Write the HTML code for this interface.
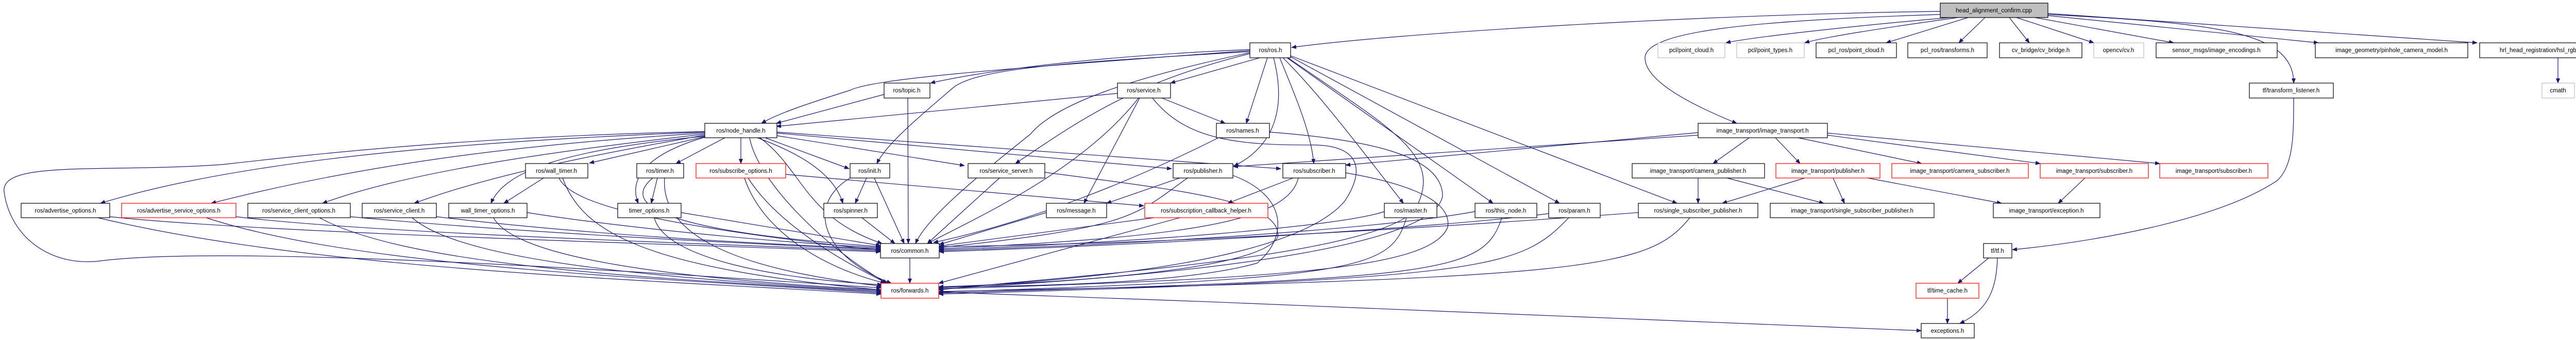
<!DOCTYPE html>
<html><head><meta charset="utf-8"><style>
html,body{margin:0;padding:0;background:#fff;}
svg{display:block}
text{font-family:"Liberation Sans",sans-serif;font-size:11.5px;fill:#000;text-anchor:middle;}
.e{fill:none;stroke:#191970;stroke-width:1.2;marker-end:url(#a)}
.n{fill:#fff;stroke:#000;stroke-width:1.2}
.r{fill:#fff;stroke:#f00;stroke-width:1.2}
.g{fill:#fff;stroke:#bfbfbf;stroke-width:1.2}
</style></head><body>
<svg width="5121" height="659" viewBox="0 0 5121 659" xmlns="http://www.w3.org/2000/svg">
<defs><marker id="a" markerWidth="10" markerHeight="8" refX="9" refY="4" orient="auto" markerUnits="userSpaceOnUse"><path d="M0,0 L10,4 L0,8 z" fill="#191970"/></marker></defs>
<g>
<path class="e" d="M3766,22 C3300,28 2700,65 2507,92"/>
<path class="e" d="M3785,34 C3600,50 3400,72 3350,83"/>
<path class="e" d="M3800,34 C3650,55 3540,72 3503,83"/>
<path class="e" d="M3820,34 L3661,83"/>
<path class="e" d="M3853,34 L3802,83"/>
<path class="e" d="M3900,34 L3939,83"/>
<path class="e" d="M3914,34 L4064,83"/>
<path class="e" d="M3950,34 L4219,83"/>
<path class="e" d="M3973,30 L4500,83"/>
<path class="e" d="M3973,26 L4808,83"/>
<path class="e" d="M3973,28 C4300,45 4452,60 4452,161"/>
<path class="e" d="M3766,28 C3400,40 3200,60 3193,110 C3190,160 3300,210 3371,239"/>
<path class="e" d="M4965,112 L4965,161"/>
<path class="e" d="M4452,190 C4452,260 4452,320 4420,350 C4300,430 4050,470 3906,484"/>
<path class="e" d="M3860,500 L3800,549"/>
<path class="e" d="M3877,500 C3875,560 3860,600 3804,627"/>
<path class="e" d="M3780,579 L3780,627"/>
<path class="e" d="M1822,566 C2500,590 3300,620 3729,641"/>
<path class="e" d="M2426,96 C2100,110 1900,140 1806,161"/>
<path class="e" d="M2445,112 L2272,161"/>
<path class="e" d="M2460,112 L2419,239"/>
<path class="e" d="M2426,98 C2000,130 1700,150 1650,175 C1570,200 1510,220 1478,239"/>
<path class="e" d="M2426,100 C2100,120 1900,130 1850,170 C1780,230 1720,280 1702,317"/>
<path class="e" d="M2426,102 C2200,150 2050,200 2000,260 C1900,340 1800,420 1777,472"/>
<path class="e" d="M2426,104 C2200,160 2100,230 1971,317"/>
<path class="e" d="M2472,112 C2495,200 2480,280 2395,322"/>
<path class="e" d="M2484,112 C2520,200 2545,260 2550,317"/>
<path class="e" d="M2490,112 C2560,180 2650,300 2724,394"/>
<path class="e" d="M2498,112 L2898,394"/>
<path class="e" d="M2505,110 L3027,394"/>
<path class="e" d="M2505,108 L3255,394"/>
<path class="e" d="M2500,112 C2700,250 2800,300 2750,400 C2700,500 2000,540 1822,562"/>
<path class="e" d="M1716,183 L1507,239"/>
<path class="e" d="M1762,190 L1763,472"/>
<path class="e" d="M2169,181 L1507,245"/>
<path class="e" d="M2255,190 L2378,239"/>
<path class="e" d="M2212,190 L2104,394"/>
<path class="e" d="M2210,190 C2100,330 1900,420 1800,472"/>
<path class="e" d="M2237,190 C2300,270 2400,282 2550,281 C2640,282 2650,330 2610,390 C2500,520 2000,548 1822,558"/>
<path class="e" d="M2365,267 C2200,350 2000,430 1812,470"/>
<path class="e" d="M2464,256 C2650,270 2800,300 2800,380 C2780,500 2100,545 1822,560"/>
<path class="e" d="M1368,265 L1144,316"/>
<path class="e" d="M1407,267 L1312,317"/>
<path class="e" d="M1438,267 L1438,317"/>
<path class="e" d="M1485,267 L1648,327"/>
<path class="e" d="M1470,267 C1560,300 1620,340 1636,394"/>
<path class="e" d="M1508,263 L1872,321"/>
<path class="e" d="M1508,258 L2274,327"/>
<path class="e" d="M1508,256 L2486,327"/>
<path class="e" d="M1475,267 C1560,330 1560,420 1712,472"/>
<path class="e" d="M1455,267 C1470,350 1600,480 1722,549"/>
<path class="e" d="M1368,256 C1000,270 500,300 195,394"/>
<path class="e" d="M1368,258 C1000,280 700,320 410,394"/>
<path class="e" d="M1368,260 C1100,290 800,330 626,394"/>
<path class="e" d="M1368,262 C1150,300 950,340 804,394"/>
<path class="e" d="M1368,264 C1100,290 980,330 953,394"/>
<path class="e" d="M1368,266 C1250,300 1220,350 1239,394"/>
<path class="e" d="M1368,255 C900,265 600,300 431,319 C200,335 0,310 8,372 C20,460 100,520 200,505 C500,470 1500,545 1710,558"/>
<path class="e" d="M1055,345 L978,394"/>
<path class="e" d="M1085,345 C1110,400 1300,440 1709,485"/>
<path class="e" d="M1092,345 C1130,450 1250,520 1710,562"/>
<path class="e" d="M1276,345 L1264,394"/>
<path class="e" d="M1267,345 C1200,400 1300,450 1709,478"/>
<path class="e" d="M1290,345 C1280,480 1500,530 1714,555"/>
<path class="e" d="M1525,338 L2220,399"/>
<path class="e" d="M1445,345 C1480,450 1600,520 1718,549"/>
<path class="e" d="M1452,345 C1500,420 1600,490 1722,549"/>
<path class="e" d="M1682,345 L1660,394"/>
<path class="e" d="M1697,345 L1755,472"/>
<path class="e" d="M1650,345 C1560,400 1600,500 1730,549"/>
<path class="e" d="M1940,345 L1800,472"/>
<path class="e" d="M2028,334 C2300,370 2490,390 2480,460 C2440,530 2000,550 1822,556"/>
<path class="e" d="M2290,345 L2148,394"/>
<path class="e" d="M2305,345 C2200,420 2200,440 1823,480"/>
<path class="e" d="M2393,340 C2500,380 2500,460 2440,510 C2300,550 2000,555 1822,556"/>
<path class="e" d="M2510,345 L2383,394"/>
<path class="e" d="M2520,345 C2500,430 2300,460 1823,482"/>
<path class="e" d="M2612,335 C2700,350 2820,380 2810,440 C2780,520 2500,540 1822,560"/>
<path class="e" d="M1673,422 L1737,472"/>
<path class="e" d="M2240,422 L1823,477"/>
<path class="e" d="M2290,422 L1822,549"/>
<path class="e" d="M2031,412 L1823,474"/>
<path class="e" d="M2687,410 C2600,440 2200,470 1823,484"/>
<path class="e" d="M2730,422 C2700,520 2650,540 1822,566"/>
<path class="e" d="M2863,410 C2700,440 2300,470 1823,486"/>
<path class="e" d="M2915,422 C2880,530 2800,540 1822,568"/>
<path class="e" d="M3006,414 C2800,440 2300,472 1823,488"/>
<path class="e" d="M3045,422 C2950,520 2900,540 1822,570"/>
<path class="e" d="M3180,412 C2800,440 2300,472 1823,478"/>
<path class="e" d="M3280,422 C3200,520 3100,540 1822,565"/>
<path class="e" d="M213,420 C500,450 1200,470 1709,488"/>
<path class="e" d="M190,422 C600,520 1200,540 1710,570"/>
<path class="e" d="M458,420 C700,450 1300,470 1709,486"/>
<path class="e" d="M400,422 C700,520 1300,540 1710,568"/>
<path class="e" d="M680,420 C1000,450 1400,470 1709,484"/>
<path class="e" d="M620,422 C800,520 1300,540 1710,566"/>
<path class="e" d="M847,420 C1100,450 1400,470 1709,482"/>
<path class="e" d="M800,422 C900,510 1300,540 1710,564"/>
<path class="e" d="M1023,412 C1200,440 1500,470 1709,480"/>
<path class="e" d="M958,422 C1000,500 1300,540 1710,562"/>
<path class="e" d="M1322,412 L1709,476"/>
<path class="e" d="M1270,422 C1290,500 1500,540 1712,552"/>
<path class="e" d="M1766,500 L1766,549"/>
<path class="e" d="M3395,267 L3325,317"/>
<path class="e" d="M3446,267 L3494,317"/>
<path class="e" d="M3490,267 L3730,317"/>
<path class="e" d="M3547,262 L3960,317"/>
<path class="e" d="M3547,258 L4192,317"/>
<path class="e" d="M3296,257 L2612,320"/>
<path class="e" d="M3296,262 L2394,323"/>
<path class="e" d="M3296,345 L3296,394"/>
<path class="e" d="M3352,345 L3540,394"/>
<path class="e" d="M3503,345 L3343,394"/>
<path class="e" d="M3558,345 L3580,394"/>
<path class="e" d="M3625,345 L3885,394"/>
<path class="e" d="M4047,345 L3995,394"/>
</g>
<g>
<rect x="3766" y="6" width="209" height="28" fill="#bfbfbf" stroke="#000" stroke-width="1.2"/><text x="3870" y="24">head_alignment_confirm.cpp</text>
<rect class="n" x="2426" y="83" width="79" height="29"/><text x="2466" y="101">ros/ros.h</text>
<rect class="g" x="3218" y="83" width="130" height="29"/><text x="3283" y="101">pcl/point_cloud.h</text>
<rect class="g" x="3371" y="83" width="131" height="29"/><text x="3436" y="101">pcl/point_types.h</text>
<rect class="n" x="3525" y="83" width="156" height="29"/><text x="3603" y="101">pcl_ros/point_cloud.h</text>
<rect class="n" x="3703" y="83" width="154" height="29"/><text x="3780" y="101">pcl_ros/transforms.h</text>
<rect class="n" x="3881" y="83" width="160" height="29"/><text x="3961" y="101">cv_bridge/cv_bridge.h</text>
<rect class="g" x="4064" y="83" width="97" height="29"/><text x="4112" y="101">opencv/cv.h</text>
<rect class="n" x="4185" y="83" width="235" height="29"/><text x="4302" y="101">sensor_msgs/image_encodings.h</text>
<rect class="n" x="4494" y="83" width="296" height="29"/><text x="4642" y="101">image_geometry/pinhole_camera_model.h</text>
<rect class="n" x="4813" y="83" width="304" height="29"/><text x="4965" y="101">hrl_head_registration/hsl_rgb_conversions.h</text>
<rect class="n" x="1716" y="161" width="89" height="29"/><text x="1760" y="179">ros/topic.h</text>
<rect class="n" x="2169" y="161" width="103" height="29"/><text x="2220" y="179">ros/service.h</text>
<rect class="n" x="4366" y="161" width="163" height="29"/><text x="4447" y="179">tf/transform_listener.h</text>
<rect class="g" x="4934" y="161" width="63" height="29"/><text x="4965" y="179">cmath</text>
<rect class="n" x="1368" y="239" width="140" height="28"/><text x="1438" y="257">ros/node_handle.h</text>
<rect class="n" x="2361" y="239" width="103" height="28"/><text x="2412" y="257">ros/names.h</text>
<rect class="n" x="3296" y="239" width="251" height="28"/><text x="3421" y="257">image_transport/image_transport.h</text>
<rect class="n" x="1020" y="317" width="121" height="28"/><text x="1080" y="335">ros/wall_timer.h</text>
<rect class="n" x="1236" y="317" width="91" height="28"/><text x="1281" y="335">ros/timer.h</text>
<rect class="r" x="1351" y="317" width="174" height="28"/><text x="1438" y="335">ros/subscribe_options.h</text>
<rect class="n" x="1650" y="317" width="77" height="28"/><text x="1688" y="335">ros/init.h</text>
<rect class="n" x="1879" y="317" width="149" height="28"/><text x="1953" y="335">ros/service_server.h</text>
<rect class="n" x="2277" y="317" width="116" height="28"/><text x="2335" y="335">ros/publisher.h</text>
<rect class="n" x="2490" y="317" width="122" height="28"/><text x="2551" y="335">ros/subscriber.h</text>
<rect class="n" x="3168" y="317" width="257" height="28"/><text x="3296" y="335">image_transport/camera_publisher.h</text>
<rect class="r" x="3447" y="317" width="202" height="28"/><text x="3548" y="335">image_transport/publisher.h</text>
<rect class="r" x="3672" y="317" width="265" height="28"/><text x="3804" y="335">image_transport/camera_subscriber.h</text>
<rect class="r" x="3960" y="317" width="210" height="28"/><text x="4065" y="335">image_transport/subscriber.h</text>
<rect class="r" x="4192" y="317" width="210" height="28"/><text x="4297" y="335">image_transport/subscriber.h</text>
<rect class="n" x="41" y="394" width="172" height="28"/><text x="127" y="412">ros/advertise_options.h</text>
<rect class="r" x="236" y="394" width="222" height="28"/><text x="347" y="412">ros/advertise_service_options.h</text>
<rect class="n" x="481" y="394" width="199" height="28"/><text x="580" y="412">ros/service_client_options.h</text>
<rect class="n" x="703" y="394" width="144" height="28"/><text x="775" y="412">ros/service_client.h</text>
<rect class="n" x="871" y="394" width="152" height="28"/><text x="947" y="412">wall_timer_options.h</text>
<rect class="n" x="1199" y="394" width="123" height="28"/><text x="1260" y="412">timer_options.h</text>
<rect class="n" x="1599" y="394" width="104" height="28"/><text x="1651" y="412">ros/spinner.h</text>
<rect class="n" x="2031" y="394" width="117" height="28"/><text x="2089" y="412">ros/message.h</text>
<rect class="r" x="2222" y="394" width="239" height="28"/><text x="2341" y="412">ros/subscription_callback_helper.h</text>
<rect class="n" x="2687" y="394" width="102" height="28"/><text x="2738" y="412">ros/master.h</text>
<rect class="n" x="2863" y="394" width="120" height="28"/><text x="2923" y="412">ros/this_node.h</text>
<rect class="n" x="3006" y="394" width="100" height="28"/><text x="3056" y="412">ros/param.h</text>
<rect class="n" x="3180" y="394" width="232" height="28"/><text x="3296" y="412">ros/single_subscriber_publisher.h</text>
<rect class="n" x="3436" y="394" width="318" height="28"/><text x="3595" y="412">image_transport/single_subscriber_publisher.h</text>
<rect class="n" x="3869" y="394" width="207" height="28"/><text x="3972" y="412">image_transport/exception.h</text>
<rect class="n" x="1709" y="472" width="114" height="28"/><text x="1766" y="490">ros/common.h</text>
<rect class="n" x="3850" y="472" width="55" height="28"/><text x="3877" y="490">tf/tf.h</text>
<rect class="r" x="1710" y="549" width="112" height="29"/><text x="1766" y="567">ros/forwards.h</text>
<rect class="r" x="3719" y="549" width="122" height="29"/><text x="3780" y="567">tf/time_cache.h</text>
<rect class="n" x="3729" y="627" width="103" height="28"/><text x="3780" y="645">exceptions.h</text>
</g>
</svg>
</body></html>
